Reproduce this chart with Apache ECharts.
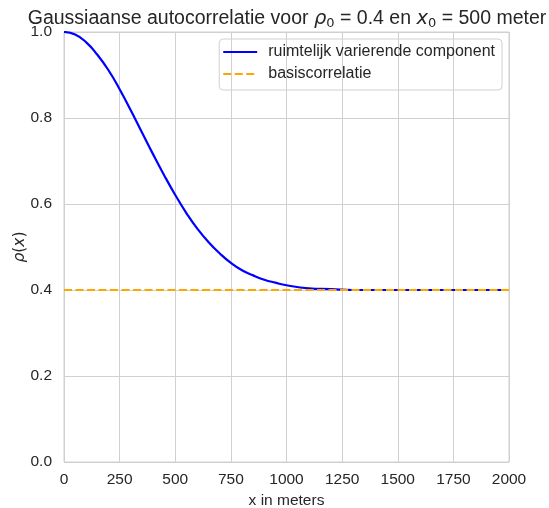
<!DOCTYPE html>
<html>
<head>
<meta charset="utf-8">
<script src="https://cdn.jsdelivr.net/npm/echarts@6/dist/echarts.min.js"></script>
<style>html,body{margin:0;padding:0;background:#fff}#c{width:549px;height:508px}</style>
</head>
<body>
<div id="c"></div>
<script>
const xValues = [0,50,100,150,200,250,300,350,400,450,500,550,600,650,700,750,800,850,900,950,1000,1100,1200,1300,1400,1500,1600,1700,1800,1900,2000];
const variableComponent = [1.000,0.994,0.976,0.947,0.911,0.867,0.818,0.767,0.716,0.667,0.621,0.579,0.542,0.511,0.485,0.463,0.446,0.434,0.424,0.417,0.411,0.404,0.402,0.400,0.400,0.400,0.400,0.400,0.400,0.400,0.400];
const baseX = [0, 2000];
const baseCorrelation = [0.4, 0.4];
const xTicks = [0,250,500,750,1000,1250,1500,1750,2000];
const yTicks = [0.0,0.2,0.4,0.6,0.8,1.0];
const seriesNames = ['ruimtelijk varierende component','basiscorrelatie'];

const chart = echarts.init(document.getElementById('c'));
const font = '"Liberation Sans", Arial, sans-serif';
const gridColor = '#d0d0d0';
const txt = '#262626';
chart.setOption({
  animation: false,
  backgroundColor: '#fff',
  title: {
    text: 'Gaussiaanse autocorrelatie voor {i|ρ}{s|0} = 0.4 en {i|x}{s|0} = 500 meter',
    left: 282, textAlign: 'center', top: 3,
    textStyle: {
      fontFamily: font, fontSize: 19.5, fontWeight: 'normal', color: txt,
      rich: {
        i: {fontFamily: '"DejaVu Sans"', fontStyle: 'italic', fontSize: 19.5, color: txt},
        s: {fontFamily: '"DejaVu Sans"', fontSize: 13, color: txt, padding: [9,0,0,0]}
      }
    }
  },
  grid: {left: 64, right: 40, top: 32, bottom: 46, outerBoundsMode: 'none', containLabel: false,
    show: true, borderColor: gridColor, borderWidth: 1},
  legend: {
    orient: 'vertical', right: 47, top: 39,
    padding: [5, 7, 8, 3], itemGap: 6,
    borderColor: gridColor, borderWidth: 1, borderRadius: 4,
    itemWidth: 34, itemHeight: 18,
    itemStyle: {opacity: 0},
    textStyle: {fontFamily: font, fontSize: 16, color: txt, padding: [0,0,0,6]},
    data: seriesNames
  },
  xAxis: {
    type: 'value', min: 0, max: 2000, interval: 250,
    name: 'x in meters', nameLocation: 'middle', nameGap: 28,
    nameTextStyle: {fontFamily: font, fontSize: 15.5, color: txt},
    axisLine: {show: false}, axisTick: {show: false},
    axisLabel: {fontFamily: font, fontSize: 15.5, color: txt, margin: 10,
      formatter: v => xTicks.includes(v) ? String(v) : ''},
    splitLine: {show: true, lineStyle: {color: gridColor, width: 1}}
  },
  yAxis: {
    type: 'value', min: 0, max: 1, interval: 0.2,
    name: '{i|ρ}({i|x})', nameLocation: 'middle', nameGap: 36, nameRotate: 90,
    nameMoveOverlap: false,
    nameTextStyle: {fontFamily: '"DejaVu Sans"', fontSize: 15.5, color: txt,
      rich: {i: {fontFamily: '"DejaVu Sans"', fontStyle: 'italic', fontSize: 15.5, color: txt}}},
    axisLine: {show: false}, axisTick: {show: false},
    axisLabel: {fontFamily: font, fontSize: 15.5, color: txt, margin: 12,
      formatter: v => yTicks.some(t => Math.abs(t - v) < 1e-9) ? v.toFixed(1) : ''},
    splitLine: {show: true, lineStyle: {color: gridColor, width: 1}}
  },
  series: [
    {
      name: seriesNames[0], type: 'line', symbol: 'none', smooth: true,
      data: xValues.map((x, i) => [x, variableComponent[i]]),
      lineStyle: {color: '#0000ff', width: 2.2}, itemStyle: {color: '#0000ff'}, z: 2
    },
    {
      name: seriesNames[1], type: 'line', symbol: 'none',
      data: baseX.map((x, i) => [x, baseCorrelation[i]]),
      lineStyle: {color: '#ffa500', width: 2.2, type: [8, 3.5]}, itemStyle: {color: '#ffa500'}, z: 3
    }
  ]
});
</script>
</body>
</html>
